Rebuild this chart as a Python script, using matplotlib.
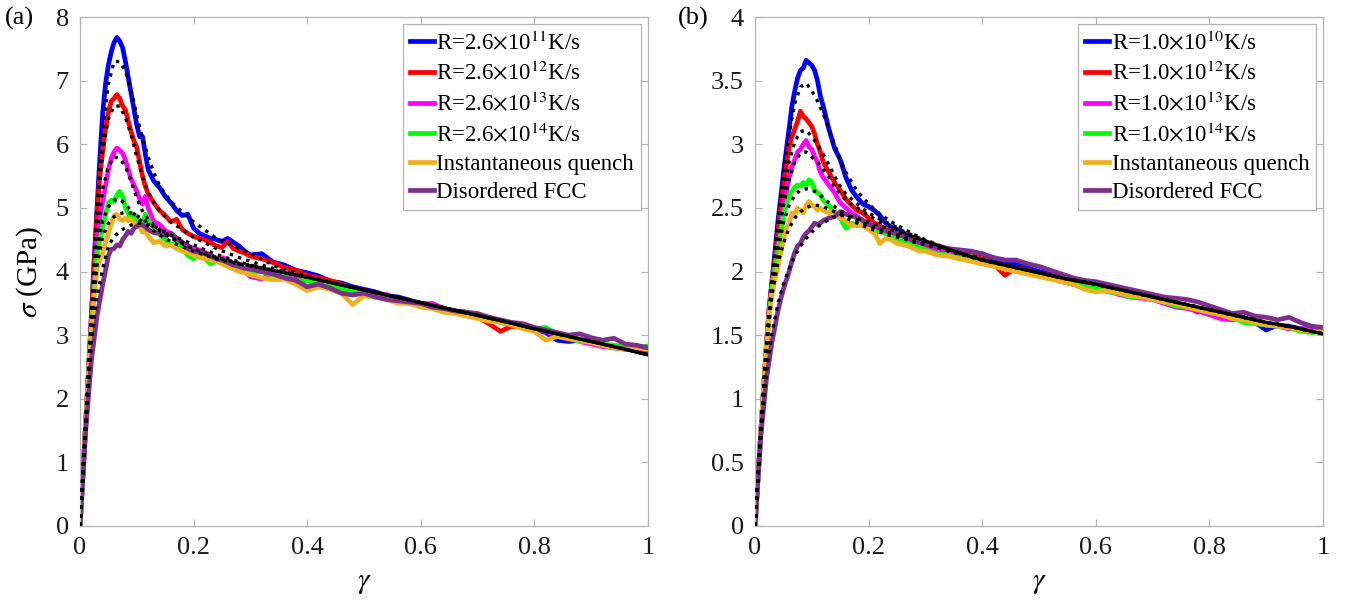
import matplotlib
matplotlib.use("Agg")
import matplotlib.pyplot as plt
from matplotlib.ticker import FuncFormatter

plt.rcParams['font.family'] = ['Liberation Serif', 'DejaVu Serif']
plt.rcParams['mathtext.fontset'] = 'stix'

# ---------------- data : panel (a) ----------------
gamma_a = [0, 0.01, 0.02, 0.025, 0.03, 0.035, 0.04, 0.045,
           0.05, 0.055, 0.06, 0.065, 0.07, 0.075, 0.08, 0.085, 0.09, 0.095,
           0.10, 0.105, 0.11, 0.115, 0.12,
           0.13, 0.14, 0.15, 0.16, 0.17, 0.18, 0.19, 0.20, 0.21, 0.22, 0.23, 0.24, 0.25, 0.26, 0.27, 0.28, 0.29,
           0.30, 0.32, 0.34, 0.36, 0.38, 0.40, 0.42, 0.44, 0.46, 0.48,
           0.50, 0.52, 0.54, 0.56, 0.58, 0.60, 0.62, 0.64, 0.66, 0.68,
           0.70, 0.72, 0.74, 0.76, 0.78, 0.80, 0.82, 0.84, 0.86, 0.88,
           0.90, 0.92, 0.94, 0.96, 0.98, 1.00]

a_blue = [0, 1.6, 3.3, 4.2, 5.0, 5.8, 6.5, 6.95,
          7.25, 7.45, 7.6, 7.68, 7.62, 7.52, 7.3, 7.05, 6.8, 6.55,
          6.3, 6.12, 6.12, 5.85, 5.6,
          5.42, 5.32, 5.18, 5.08, 4.96, 4.88, 4.9, 4.68, 4.6, 4.56, 4.52, 4.5, 4.47, 4.52, 4.46, 4.4, 4.32,
          4.26, 4.28, 4.15, 4.1, 4.02, 3.98, 3.93, 3.85, 3.82, 3.76,
          3.72, 3.68, 3.62, 3.6, 3.55, 3.5, 3.48, 3.42, 3.37, 3.36,
          3.3, 3.28, 3.2, 3.16, 3.12, 3.08, 3.04, 2.92, 2.9, 2.92,
          2.88, 2.85, 2.8, 2.8, 2.76, 2.74]
a_red = [0, 1.6, 3.25, 4.1, 4.9, 5.5, 5.9, 6.25,
         6.5, 6.68, 6.72, 6.78, 6.72, 6.6, 6.54, 6.36, 6.2, 6.05,
         5.95, 5.72, 5.5, 5.34, 5.22,
         5.08, 4.96, 4.88, 4.78, 4.82, 4.66, 4.6, 4.55, 4.52, 4.5, 4.45, 4.4, 4.38, 4.47, 4.36, 4.32, 4.29,
         4.24, 4.2, 4.14, 4.06, 4.02, 3.94, 3.9, 3.86, 3.8, 3.74,
         3.7, 3.66, 3.6, 3.58, 3.52, 3.49, 3.45, 3.4, 3.38, 3.32,
         3.28, 3.18, 3.06, 3.14, 3.12, 3.1, 3.08, 2.98, 2.95, 2.92,
         2.9, 2.86, 2.82, 2.78, 2.78, 2.76]
a_magenta = [0, 1.6, 3.2, 3.85, 4.5, 4.85, 5.1, 5.35,
             5.6, 5.78, 5.88, 5.94, 5.9, 5.86, 5.75, 5.6, 5.45, 5.36,
             5.26, 5.14, 5.06, 5.18, 5.0,
             4.78, 4.74, 4.64, 4.6, 4.52, 4.46, 4.4, 4.36, 4.34, 4.3, 4.26, 4.2, 4.22, 4.18, 4.12, 4.05, 4.0,
             3.92, 3.88, 3.98, 3.96, 3.9, 3.86, 3.84, 3.78, 3.76, 3.7,
             3.66, 3.6, 3.64, 3.56, 3.54, 3.48, 3.5, 3.42, 3.38, 3.36,
             3.3, 3.26, 3.22, 3.18, 3.16, 3.1, 3.06, 3.0, 2.96, 2.9,
             2.86, 2.82, 2.8, 2.78, 2.76, 2.78]
a_green = [0, 1.6, 3.15, 3.7, 4.3, 4.5, 4.7, 4.9,
           5.08, 5.12, 5.1, 5.2, 5.26, 5.18, 5.0, 4.92, 4.82, 4.9,
           4.8, 4.74, 4.72, 4.9, 4.8,
           4.7, 4.58, 4.5, 4.42, 4.44, 4.36, 4.25, 4.2, 4.28, 4.2, 4.12, 4.16, 4.14, 4.1, 4.04, 4.06, 4.0,
           3.98, 4.0, 3.94, 3.92, 3.85, 3.86, 3.8, 3.78, 3.72, 3.7,
           3.62, 3.6, 3.58, 3.52, 3.5, 3.46, 3.44, 3.4, 3.36, 3.32,
           3.3, 3.25, 3.22, 3.18, 3.14, 3.1, 3.12, 3.02, 2.95, 2.9,
           2.9, 2.86, 2.84, 2.82, 2.8, 2.83]
a_orange = [0, 1.6, 3.1, 3.6, 4.05, 4.2, 4.3, 4.45,
            4.6, 4.75, 4.88, 4.9, 4.82, 4.8, 4.84, 4.8, 4.82, 4.76,
            4.72, 4.7, 4.62, 4.64, 4.56,
            4.45, 4.48, 4.4, 4.42, 4.36, 4.32, 4.3, 4.26, 4.22, 4.2, 4.18, 4.16, 4.12, 4.08, 4.04, 4.0, 3.98,
            3.95, 3.9, 3.87, 3.88, 3.8, 3.7, 3.76, 3.72, 3.66, 3.48,
            3.62, 3.6, 3.56, 3.5, 3.5, 3.44, 3.42, 3.36, 3.34, 3.3,
            3.26, 3.22, 3.2, 3.16, 3.1, 3.06, 2.92, 2.98, 2.94, 2.92,
            2.88, 2.84, 2.8, 2.78, 2.8, 2.78]
a_purple = [0, 1.5, 2.6, 2.95, 3.3, 3.55, 3.8, 4.02,
            4.25, 4.35, 4.36, 4.42, 4.4, 4.5, 4.56, 4.63, 4.6, 4.68,
            4.71, 4.74, 4.73, 4.7, 4.66,
            4.61, 4.6, 4.57, 4.6, 4.52, 4.46, 4.36, 4.32, 4.3, 4.28, 4.24, 4.2, 4.18, 4.14, 4.1, 4.08, 4.05,
            4.04, 4.0, 3.96, 3.9, 3.86, 3.76, 3.8, 3.74, 3.66, 3.63,
            3.66, 3.6, 3.56, 3.54, 3.52, 3.5, 3.44, 3.42, 3.38, 3.36,
            3.34, 3.28, 3.24, 3.2, 3.18, 3.12, 3.08, 3.04, 3.0, 3.02,
            2.96, 2.92, 2.95, 2.86, 2.84, 2.8]

fit_gamma_a = [0, 0.01, 0.02, 0.03, 0.04, 0.05, 0.06, 0.07, 0.08, 0.09, 0.10, 0.11, 0.12, 0.13, 0.14, 0.15, 0.16,
               0.18, 0.20, 0.22, 0.24, 0.26, 0.28, 0.30,
               0.35, 0.40, 0.45, 0.50, 0.55, 0.60, 0.65, 0.70, 0.75, 0.80, 0.85, 0.90, 0.95, 1.00]
a_fit_blue = [0, 1.6, 3.3, 5.0, 6.2, 6.95, 7.3, 7.3, 7.15, 6.85, 6.45, 6.1, 5.8, 5.55, 5.35, 5.22, 5.1,
              4.93, 4.78, 4.65, 4.52, 4.45, 4.36, 4.28,
              4.06, 3.93, 3.81, 3.71, 3.61, 3.51, 3.41, 3.31, 3.21, 3.1, 3.0, 2.9, 2.8, 2.69]
a_fit_red = [0, 1.6, 3.25, 4.9, 5.9, 6.4, 6.6, 6.6, 6.42, 6.15, 5.8, 5.5, 5.25, 5.08, 4.96, 4.86, 4.78,
             4.66, 4.54, 4.45, 4.36, 4.29, 4.22, 4.16,
             4.02, 3.91, 3.81, 3.71, 3.61, 3.51, 3.41, 3.31, 3.21, 3.1, 3.0, 2.9, 2.8, 2.69]
a_fit_magenta = [0, 1.6, 3.2, 4.55, 5.3, 5.65, 5.8, 5.78, 5.65, 5.42, 5.15, 4.95, 4.82, 4.72, 4.66, 4.6, 4.54,
                 4.46, 4.36, 4.28, 4.22, 4.18, 4.13, 4.1,
                 4.0, 3.91, 3.81, 3.71, 3.61, 3.51, 3.41, 3.31, 3.21, 3.1, 3.0, 2.9, 2.8, 2.69]
a_fit_green = [0, 1.6, 3.15, 4.3, 4.8, 5.02, 5.12, 5.14, 5.06, 4.95, 4.86, 4.78, 4.71, 4.64, 4.58, 4.52, 4.47,
               4.39, 4.32, 4.26, 4.2, 4.16, 4.12, 4.09,
               4.0, 3.91, 3.81, 3.71, 3.61, 3.51, 3.41, 3.31, 3.21, 3.1, 3.0, 2.9, 2.8, 2.69]
a_fit_orange = [0, 1.55, 3.1, 4.1, 4.55, 4.76, 4.86, 4.91, 4.93, 4.92, 4.88, 4.82, 4.76, 4.7, 4.64, 4.58, 4.52,
                4.44, 4.36, 4.29, 4.22, 4.17, 4.12, 4.09,
                4.0, 3.91, 3.81, 3.71, 3.61, 3.51, 3.41, 3.31, 3.21, 3.1, 3.0, 2.9, 2.8, 2.69]
a_fit_purple = [0, 1.5, 2.9, 3.6, 4.05, 4.4, 4.55, 4.63, 4.69, 4.73, 4.76, 4.76, 4.74, 4.71, 4.67, 4.62, 4.57,
                4.5, 4.42, 4.34, 4.27, 4.21, 4.15, 4.1,
                4.0, 3.91, 3.81, 3.71, 3.61, 3.51, 3.41, 3.31, 3.21, 3.1, 3.0, 2.9, 2.8, 2.69]

# ---------------- data : panel (b) ----------------
gamma_b = list(gamma_a)

b_blue = [0, 0.72, 1.42, 1.72, 1.93, 2.15, 2.38, 2.57,
          2.77, 2.95, 3.12, 3.3, 3.42, 3.52, 3.58, 3.6, 3.66, 3.64,
          3.62, 3.58, 3.5, 3.38, 3.3,
          3.12, 2.97, 2.88, 2.74, 2.64, 2.58, 2.53, 2.51, 2.48, 2.44, 2.38, 2.35, 2.33, 2.3, 2.28, 2.25, 2.24,
          2.22, 2.19, 2.17, 2.16, 2.12, 2.14, 2.1, 2.07, 2.06, 2.03,
          2.0, 1.98, 1.94, 1.9, 1.88, 1.89, 1.87, 1.86, 1.84, 1.8,
          1.78, 1.76, 1.74, 1.73, 1.7, 1.68, 1.67, 1.66, 1.64, 1.6,
          1.54, 1.58, 1.57, 1.55, 1.55, 1.54]
b_red = [0, 0.72, 1.42, 1.7, 1.92, 2.1, 2.3, 2.48,
         2.66, 2.82, 2.98, 3.06, 3.12, 3.18, 3.26, 3.22, 3.2, 3.17,
         3.14, 3.08, 3.0, 2.94, 2.86,
         2.78, 2.7, 2.64, 2.57, 2.52, 2.48, 2.46, 2.42, 2.38, 2.36, 2.33, 2.32, 2.3, 2.27, 2.26, 2.27, 2.22,
         2.2, 2.2, 2.18, 2.15, 2.13, 2.1, 2.06, 1.97, 2.03, 2.01,
         1.98, 1.97, 1.94, 1.92, 1.9, 1.88, 1.86, 1.84, 1.82, 1.8,
         1.79, 1.76, 1.74, 1.72, 1.68, 1.7, 1.66, 1.64, 1.62, 1.6,
         1.58, 1.58, 1.56, 1.54, 1.54, 1.52]
b_magenta = [0, 0.72, 1.4, 1.68, 1.9, 2.05, 2.2, 2.32,
             2.5, 2.62, 2.74, 2.82, 2.88, 2.94, 2.96, 3.0, 3.03, 2.98,
             2.96, 2.9, 2.86, 2.78, 2.74,
             2.68, 2.62, 2.54, 2.5, 2.46, 2.43, 2.4, 2.38, 2.36, 2.33, 2.3, 2.29, 2.27, 2.26, 2.23, 2.22, 2.2,
             2.18, 2.16, 2.15, 2.14, 2.11, 2.09, 2.06, 2.04, 2.02, 2.0,
             1.98, 1.95, 1.92, 1.9, 1.89, 1.86, 1.85, 1.82, 1.8, 1.79,
             1.78, 1.75, 1.72, 1.71, 1.69, 1.66, 1.63, 1.62, 1.63, 1.6,
             1.58, 1.57, 1.55, 1.55, 1.54, 1.53]
b_green = [0, 0.72, 1.4, 1.66, 1.88, 2.02, 2.16, 2.28,
           2.44, 2.52, 2.6, 2.63, 2.66, 2.68, 2.67, 2.7, 2.68, 2.72,
           2.7, 2.64, 2.62, 2.6, 2.56,
           2.52, 2.47, 2.42, 2.34, 2.38, 2.36, 2.37, 2.34, 2.3, 2.32, 2.3, 2.27, 2.26, 2.24, 2.22, 2.2, 2.19,
           2.17, 2.14, 2.13, 2.1, 2.12, 2.08, 2.05, 2.03, 2.0, 1.99,
           1.97, 1.95, 1.94, 1.91, 1.88, 1.87, 1.84, 1.83, 1.8, 1.8,
           1.79, 1.76, 1.73, 1.72, 1.7, 1.68, 1.66, 1.64, 1.6, 1.59,
           1.58, 1.57, 1.56, 1.53, 1.52, 1.53]
b_orange = [0, 0.72, 1.4, 1.65, 1.82, 1.94, 2.03, 2.14,
            2.25, 2.34, 2.38, 2.46, 2.44, 2.5, 2.48, 2.46, 2.52, 2.55,
            2.52, 2.51, 2.48, 2.5, 2.48,
            2.46, 2.48, 2.42, 2.4, 2.36, 2.37, 2.36, 2.33, 2.3, 2.22, 2.26, 2.25, 2.22, 2.21, 2.2, 2.18, 2.16,
            2.16, 2.13, 2.12, 2.1, 2.08, 2.06, 2.04, 2.02, 2.0, 1.98,
            1.96, 1.94, 1.92, 1.9, 1.86, 1.84, 1.85, 1.83, 1.81, 1.8,
            1.78, 1.76, 1.75, 1.72, 1.7, 1.68, 1.66, 1.63, 1.62, 1.6,
            1.58, 1.57, 1.56, 1.54, 1.53, 1.52]
b_purple = [0, 0.7, 1.15, 1.3, 1.45, 1.56, 1.68, 1.78,
            1.86, 1.93, 2.0, 2.08, 2.15, 2.2, 2.22, 2.27, 2.3, 2.32,
            2.35, 2.38, 2.37, 2.38, 2.4,
            2.42, 2.43, 2.47, 2.45, 2.44, 2.42, 2.4, 2.37, 2.36, 2.34, 2.32, 2.31, 2.3, 2.28, 2.26, 2.24, 2.23,
            2.22, 2.2, 2.18, 2.17, 2.16, 2.14, 2.11, 2.09, 2.09, 2.06,
            2.04, 2.01, 1.98, 1.95, 1.93, 1.92, 1.9, 1.88, 1.86, 1.84,
            1.82, 1.8, 1.79, 1.78, 1.76, 1.73, 1.7, 1.67, 1.68, 1.65,
            1.64, 1.62, 1.64, 1.6, 1.57, 1.56]

fit_gamma_b = list(fit_gamma_a)
b_fit_blue = [0, 0.72, 1.42, 1.93, 2.38, 2.77, 3.08, 3.32, 3.45, 3.48, 3.42, 3.34, 3.24, 3.12, 3.0, 2.88, 2.78,
              2.63, 2.53, 2.45, 2.39, 2.34, 2.29, 2.25,
              2.16, 2.09, 2.04, 1.99, 1.94, 1.9, 1.85, 1.8, 1.75, 1.7, 1.65, 1.6, 1.56, 1.51]
b_fit_red = [0, 0.72, 1.42, 1.9, 2.3, 2.62, 2.86, 3.02, 3.1, 3.11, 3.06, 3.0, 2.92, 2.84, 2.75, 2.67, 2.61,
             2.53, 2.46, 2.41, 2.37, 2.32, 2.28, 2.24,
             2.16, 2.09, 2.04, 1.99, 1.94, 1.9, 1.85, 1.8, 1.75, 1.7, 1.65, 1.6, 1.56, 1.51]
b_fit_magenta = [0, 0.72, 1.4, 1.88, 2.24, 2.52, 2.72, 2.86, 2.93, 2.94, 2.9, 2.86, 2.8, 2.74, 2.67, 2.61, 2.56,
                 2.5, 2.44, 2.39, 2.35, 2.31, 2.27, 2.24,
                 2.16, 2.09, 2.04, 1.99, 1.94, 1.9, 1.85, 1.8, 1.75, 1.7, 1.65, 1.6, 1.56, 1.51]
b_fit_green = [0, 0.72, 1.4, 1.86, 2.16, 2.38, 2.52, 2.6, 2.64, 2.65, 2.64, 2.62, 2.58, 2.54, 2.51, 2.48, 2.45,
               2.4, 2.36, 2.33, 2.3, 2.28, 2.25, 2.22,
               2.15, 2.09, 2.04, 1.99, 1.94, 1.9, 1.85, 1.8, 1.75, 1.7, 1.65, 1.6, 1.56, 1.51]
b_fit_orange = [0, 0.72, 1.4, 1.82, 2.06, 2.22, 2.34, 2.42, 2.47, 2.5, 2.52, 2.52, 2.51, 2.49, 2.47, 2.45, 2.42,
                2.38, 2.34, 2.31, 2.28, 2.26, 2.23, 2.21,
                2.15, 2.09, 2.04, 1.99, 1.94, 1.9, 1.85, 1.8, 1.75, 1.7, 1.65, 1.6, 1.56, 1.51]
b_fit_purple = [0, 0.7, 1.2, 1.52, 1.74, 1.9, 2.02, 2.12, 2.2, 2.26, 2.31, 2.35, 2.38, 2.41, 2.43, 2.44, 2.44,
                2.42, 2.39, 2.36, 2.33, 2.3, 2.27, 2.24,
                2.16, 2.1, 2.04, 1.99, 1.94, 1.9, 1.85, 1.8, 1.75, 1.7, 1.65, 1.6, 1.56, 1.51]

labels_a = ['R=2.6$\\times$10$^{11}$K/s', 'R=2.6$\\times$10$^{12}$K/s',
            'R=2.6$\\times$10$^{13}$K/s', 'R=2.6$\\times$10$^{14}$K/s',
            'Instantaneous quench', 'Disordered FCC']
labels_b = ['R=1.0$\\times$10$^{10}$K/s', 'R=1.0$\\times$10$^{12}$K/s',
            'R=1.0$\\times$10$^{13}$K/s', 'R=1.0$\\times$10$^{14}$K/s',
            'Instantaneous quench', 'Disordered FCC']
colors = ['#0000ff', '#ff0000', '#ff00ff', '#00ff00', '#edb120', '#7e2f8e']

yticks_a = [0, 1, 2, 3, 4, 5, 6, 7, 8]
yticks_b = [0, 0.5, 1, 1.5, 2, 2.5, 3, 3.5, 4]
xticks = [0, 0.2, 0.4, 0.6, 0.8, 1]

# ---------------- figure ----------------
fig = plt.figure(figsize=(13.56, 6.02), dpi=100)
W, H = 1356, 602
ax_a = fig.add_axes([80 / W, (H - 526) / H, 568 / W, 509 / H])
ax_b = fig.add_axes([755 / W, (H - 526) / H, 568 / W, 509 / H])

fmt = FuncFormatter(lambda v, p: '%g' % v)
spine_c = '#b4b4b4'


def draw(ax, g, series, fg, fits, labels, yticks):
    handles = []
    for s, c, lab in zip(series, colors, labels):
        h, = ax.plot(g, s, color=c, lw=3.4, label=lab, solid_joinstyle='round', zorder=2)
        handles.append(h)
    for f in fits:
        ax.plot(fg, f, color='k', lw=2.4, ls=(0, (1, 1.6)), zorder=3)
    ax.set_xlim(0, 1)
    ax.set_ylim(yticks[0], yticks[-1])
    ax.set_xticks(xticks)
    ax.set_yticks(yticks)
    ax.xaxis.set_major_formatter(fmt)
    ax.yaxis.set_major_formatter(fmt)
    ax.tick_params(direction='in', length=5, width=0.8, color=spine_c,
                   labelsize=19, top=True, right=True, pad=8, labelcolor='#1a1a1a')
    for sp in ax.spines.values():
        sp.set_color(spine_c)
        sp.set_linewidth(0.9)
    ax.set_xlabel('$\\gamma$', fontsize=21, labelpad=8)
    leg = ax.legend(handles=handles, loc='upper right', fontsize=16.5, frameon=True,
                    fancybox=False, edgecolor=spine_c, framealpha=1,
                    handlelength=1.05, handletextpad=0.1, borderpad=0.3,
                    labelspacing=0.32, borderaxespad=0.3)
    leg.get_frame().set_linewidth(0.9)
    for ln in leg.get_lines():
        ln.set_linewidth(3.4)


draw(ax_a, gamma_a, [a_blue, a_red, a_magenta, a_green, a_orange, a_purple],
     fit_gamma_a, [a_fit_blue, a_fit_red, a_fit_magenta, a_fit_green, a_fit_orange, a_fit_purple],
     labels_a, yticks_a)
draw(ax_b, gamma_b, [b_blue, b_red, b_magenta, b_green, b_orange, b_purple],
     fit_gamma_b, [b_fit_blue, b_fit_red, b_fit_magenta, b_fit_green, b_fit_orange, b_fit_purple],
     labels_b, yticks_b)

ax_a.set_ylabel('$\\sigma$ (GPa)', fontsize=21, labelpad=8)

fig.text(5 / W, 1 - 18 / H, '(a)', fontsize=19, va='center', ha='left')
fig.text(678 / W, 1 - 18 / H, '(b)', fontsize=19, va='center', ha='left')

fig.savefig('out.png', dpi=100)
